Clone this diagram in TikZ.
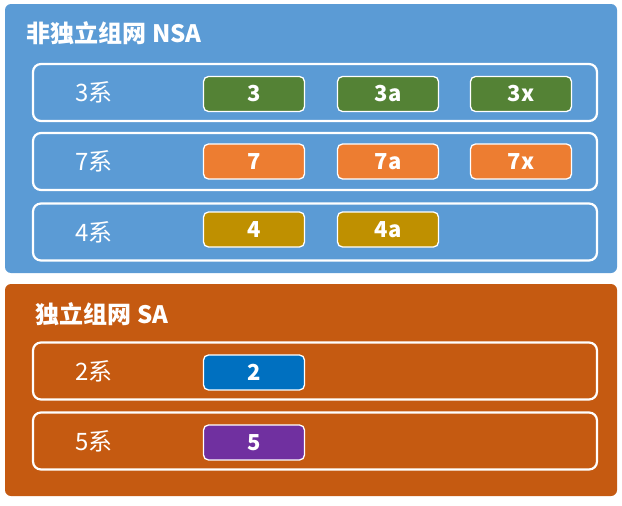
\documentclass[tikz,border=0pt]{standalone}
\usepackage{fontspec}
\setmainfont{Noto Sans CJK SC}
\definecolor{nsablue}{HTML}{5B9BD5}
\definecolor{saorange}{HTML}{C55A11}
\definecolor{chipgreen}{HTML}{548235}
\definecolor{chiporange}{HTML}{ED7D31}
\definecolor{chipgold}{HTML}{BF9000}
\definecolor{chipblue}{HTML}{0070C0}
\definecolor{chippurple}{HTML}{7030A0}

\begin{document}
\begin{tikzpicture}[x=1pt, y=-1pt,
                    group/.style={rectangle, rounded corners=6pt, minimum width=612pt},
                    title/.style={anchor=west, text=white, font=\fontsize{24}{28}\selectfont\bfseries},
                    row node/.style={rectangle, draw=white, line width=2.2pt, rounded corners=8pt,
                                     minimum width=564pt, minimum height=57pt},
                    series/.style={anchor=west, text=white, font=\fontsize{24}{28}\selectfont},
                    chip/.style={rectangle, draw=white, line width=1.3pt, rounded corners=5pt,
                                 minimum width=101pt, minimum height=35pt, inner sep=0pt,
                                 text=white, font=\fontsize{22}{26}\selectfont\bfseries}]

  \useasboundingbox (0, 0) rectangle (622, 506);

  % non-standalone
  \node[group, fill=nsablue, minimum height=269pt] (nsa) at (311, 138.5) {};
  \node[title] (nsa title) at (23, 33) {非独立组网 NSA};

  \node[row node] (r3) at (315, 92.5) {};
  \node[row node] (r7) at (315, 161.5) {};
  \node[row node] (r4) at (315, 232) {};

  \node[series] (s3) at (72, 92.5) {3系};
  \node[series] (s7) at (72, 161.5) {7系};
  \node[series] (s4) at (72, 232) {4系};

  \node[chip, fill=chipgreen] (c3) at (254, 94) {3};
  \node[chip, fill=chipgreen] (c3a) at (388, 94) {3a};
  \node[chip, fill=chipgreen] (c3x) at (521, 94) {3x};
  \node[chip, fill=chiporange] (c7) at (254, 161.5) {7};
  \node[chip, fill=chiporange] (c7a) at (388, 161.5) {7a};
  \node[chip, fill=chiporange] (c7x) at (521, 161.5) {7x};
  \node[chip, fill=chipgold] (c4) at (254, 229.5) {4};
  \node[chip, fill=chipgold] (c4a) at (388, 229.5) {4a};

  % standalone
  \node[group, fill=saorange, minimum height=212pt] (sa) at (311, 390) {};
  \node[title] (sa title) at (32, 314) {独立组网 SA};

  \node[row node] (r2) at (315, 371) {};
  \node[row node] (r5) at (315, 441) {};

  \node[series] (s2) at (72, 371) {2系};
  \node[series] (s5) at (72, 441) {5系};

  \node[chip, fill=chipblue] (c2) at (254, 372.5) {2};
  \node[chip, fill=chippurple] (c5) at (254, 442.5) {5};

\end{tikzpicture}
\end{document}
